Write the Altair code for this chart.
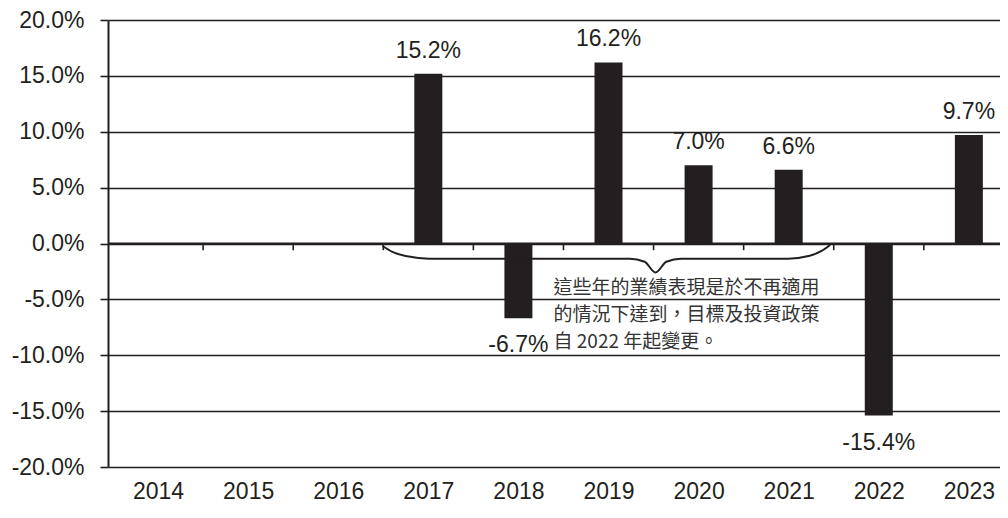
import altair as alt
import pandas as pd

# ---- data ----
YEARS = [2014, 2015, 2016, 2017, 2018, 2019, 2020, 2021, 2022, 2023]
RETURNS = [None, None, None, 15.2, -6.7, 16.2, 7.0, 6.6, -15.4, 9.7]
Y_TICKS = [-20, -15, -10, -5, 0, 5, 10, 15, 20]

NOTE_LINES = [
    "這些年的業績表現是於不再適用",
    "的情況下達到，目標及投資政策",
    "自 2022 年起變更。",
]
# brace annotation (years 2016.5 -> 2021.5), in data units
BRACE_X = [2016.492, 2016.602, 2016.766, 2017.008, 2019.236, 2019.401, 2019.522,
           2019.642, 2019.807, 2020.992, 2021.233, 2021.365, 2021.460]
BRACE_Y = [-0.22, -0.75, -1.14, -1.36, -1.36, -1.63, -2.59,
           -1.63, -1.36, -1.36, -1.10, -0.66, -0.13]

DARK = "#231f20"
FONT = "Liberation Sans"
CJK = "Noto Sans CJK TC"

bars_df = pd.DataFrame({"year": YEARS, "ret": RETURNS}).dropna()
bound_df = pd.DataFrame({"b": [y + 0.5 for y in YEARS[:-1]]})
brace_df = pd.DataFrame({"x": BRACE_X, "y": BRACE_Y, "i": list(range(len(BRACE_X)))})
note_df = pd.DataFrame({
    "t": NOTE_LINES,
    "x": [2018.39] * 3,
    "y": [-3.96, -6.42, -8.79],
})

xscale = alt.Scale(domain=[2013.5, 2023.29], nice=False, zero=False)
yscale = alt.Scale(domain=[-20, 20], nice=False)

SIGNED = "(datum.value < 0 ? '-' : '') + format(abs(datum.value), '.1f') + '%'"

xaxis = alt.Axis(values=YEARS, format="d", ticks=False, domain=False, grid=False,
                 labelFontSize=23, labelFont=FONT, labelColor=DARK, labelPadding=13,
                 labelFlush=False, title=None)
yaxis = alt.Axis(values=Y_TICKS, labelExpr=SIGNED,
                 grid=True, gridColor=DARK, gridWidth=1.6, gridOpacity=1,
                 domain=True, domainColor=DARK, domainWidth=2,
                 tickSize=8, tickColor=DARK, tickWidth=1.6,
                 labelFontSize=23, labelFont=FONT, labelColor=DARK, labelPadding=16,
                 labelFlush=False, title=None)

bars = alt.Chart(bars_df).mark_bar(orient="vertical", size=28, color=DARK).encode(
    x=alt.X("year:Q", scale=xscale, axis=xaxis),
    y=alt.Y("ret:Q", scale=yscale, axis=yaxis),
)

zero = alt.Chart(pd.DataFrame({"z": [0]})).mark_rule(color=DARK, strokeWidth=2.2).encode(
    y=alt.Y("z:Q", scale=yscale)
)

ticks = alt.Chart(bound_df).mark_rule(color=DARK, strokeWidth=1.6).encode(
    x=alt.X("b:Q", scale=xscale),
    y=alt.datum(0),
    y2=alt.datum(-0.6),
)

lab_base = alt.Chart(bars_df).transform_calculate(
    lab="(datum.ret < 0 ? '-' : '') + format(abs(datum.ret), '.1f') + '%'"
)
pos_labels = lab_base.transform_filter("datum.ret >= 0").mark_text(
    fontSize=23, font=FONT, color=DARK, dy=-16, baseline="alphabetic", align="center"
).encode(x=alt.X("year:Q", scale=xscale), y=alt.Y("ret:Q", scale=yscale), text="lab:N")
neg_labels = lab_base.transform_filter("datum.ret < 0").mark_text(
    fontSize=23, font=FONT, color=DARK, dy=34, baseline="alphabetic", align="center"
).encode(x=alt.X("year:Q", scale=xscale), y=alt.Y("ret:Q", scale=yscale), text="lab:N")

brace = alt.Chart(brace_df).mark_line(color=DARK, strokeWidth=2, interpolate="monotone").encode(
    x=alt.X("x:Q", scale=xscale),
    y=alt.Y("y:Q", scale=yscale),
    order="i:Q",
)

note = alt.Chart(note_df).mark_text(
    fontSize=19, font=CJK, color="#333333", align="left", baseline="middle"
).encode(x=alt.X("x:Q", scale=xscale), y=alt.Y("y:Q", scale=yscale), text="t:N")

chart = alt.layer(bars, zero, ticks, brace, pos_labels, neg_labels, note).properties(
    width=892,
    height=447,
    autosize=alt.AutoSizeParams(type="none"),
    padding={"left": 100, "top": 12, "right": 0, "bottom": 37},
).configure_view(stroke=None).configure(background="white")

chart.save("out.html", embed_options={"renderer": "svg", "actions": False})
